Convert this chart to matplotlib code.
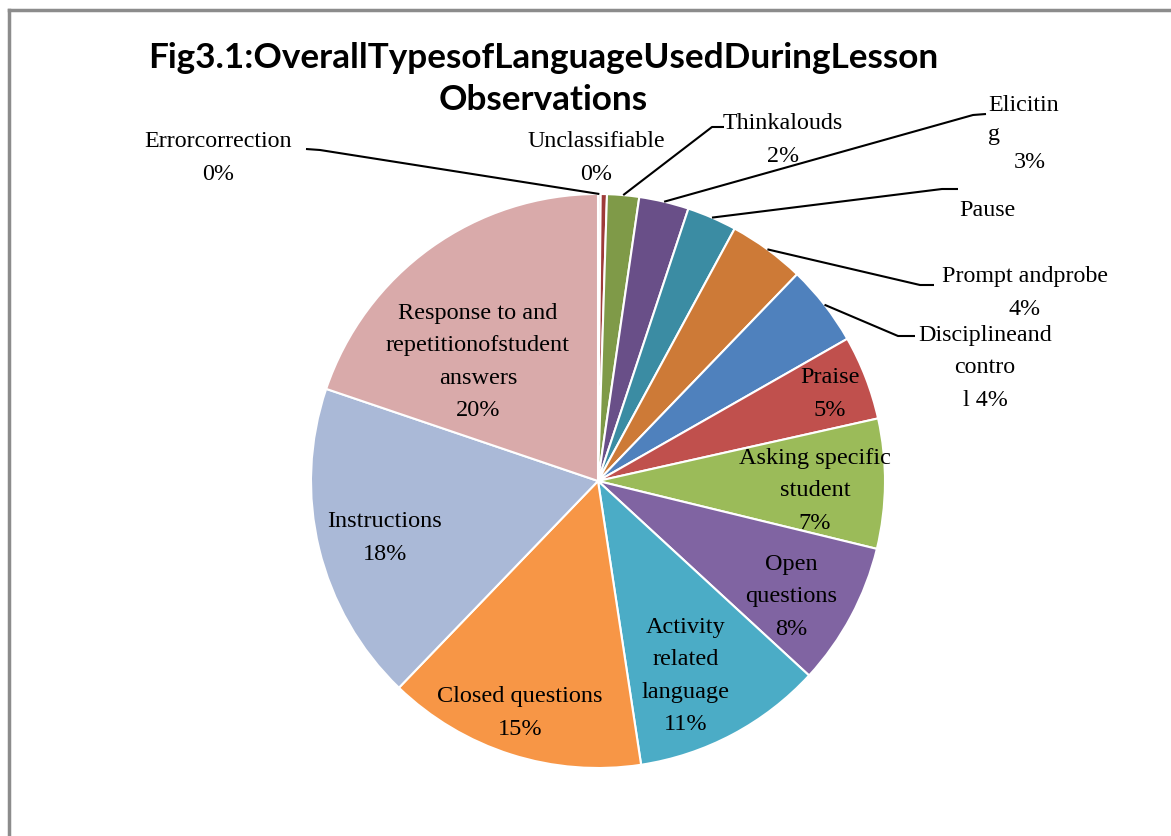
import matplotlib
matplotlib.use("Agg")
import matplotlib.pyplot as plt
from matplotlib.lines import Line2D
import numpy as np

# slices, clockwise from 12 o'clock
categories = ["Error correction", "Unclassifiable", "Think alouds", "Eliciting", "Pause",
              "Prompt and probe", "Discipline and control", "Praise",
              "Asking specific student", "Open questions", "Activity related language",
              "Closed questions", "Instructions", "Response to and repetition of student answers"]
shares = [0.15, 0.35, 1.8, 2.8, 2.8, 4.3, 4.55, 4.75, 7.3, 8.05, 10.75, 14.6, 18.0, 19.8]
labels = ["Errorcorrection\n0%", "Unclassifiable\n0%", "Thinkalouds\n2%", "Elicitin\ng", "Pause",
          "Prompt andprobe\n4%", "Disciplineand\ncontro\nl 4%", "Praise\n5%",
          "Asking specific\nstudent\n7%", "Open\nquestions\n8%", "Activity\nrelated\nlanguage\n11%",
          "Closed questions\n15%", "Instructions\n18%", "Response to and\nrepetitionofstudent\nanswers\n20%"]
colors = ["#f2dcdb", "#9e3b39", "#7f9a48", "#694f88", "#3b8ca3", "#cd7a37",
          "#4f81bd", "#c0504d", "#9bbb59", "#8064a2", "#4bacc6",
          "#f79646", "#aab9d7", "#d9aaaa"]
title_lines = ["Fig3.1:OverallTypesofLanguageUsedDuringLesson", "Observations"]

W, H = 1171, 837
cx, cy, R = 598, 482, 287


def px(x, y):
    # pixel position -> pie data units
    return (x - cx) / R, (cy - y) / R


fig = plt.figure(figsize=(W / 100, H / 100), dpi=100)
ax = fig.add_axes([0, 0, 1, 1])
wedges, _ = ax.pie(shares, colors=colors, startangle=90, counterclock=False,
                   wedgeprops=dict(edgecolor="white", linewidth=1.5))
ax.set_xlim(-cx / R, (W - cx) / R)
ax.set_ylim(-(H - cy) / R, cy / R)
ax.axis("off")

serif = ["Liberation Serif", "DejaVu Serif"]
fs_out = 17.3
fs_in = 17.5

# label centre, leader end and leader elbow (pixels) for outside labels
outside = {
    0: ((218, 158), (306, 150), (320, 151)),
    1: ((596, 158), None, None),
    2: ((783, 140), (724, 128), (712, 128)),
    3: ((988, 120), (986, 115), (973, 116)),
    4: ((987, 211), (958, 190), (942, 190)),
    5: ((1025, 293), (934, 286), (920, 286)),
    6: ((985, 368), (915, 337), (898, 337)),
}
for i, (pos, end, elbow) in outside.items():
    x, y = px(*pos)
    if i == 3:
        ax.text(x, y, labels[i], ha="left", va="center", fontsize=fs_out,
                family=serif, linespacing=1.45)
        x3, y3 = px(1030, 163)
        ax.text(x3, y3, "3%", ha="center", va="center", fontsize=fs_out, family=serif)
    else:
        ax.text(x, y, labels[i], ha="center", va="center", fontsize=fs_out,
                family=serif, linespacing=1.72)
    if end is None:
        continue
    w = wedges[i]
    ang = np.deg2rad((w.theta1 + w.theta2) / 2)
    wx, wy = np.cos(ang), np.sin(ang)
    ex, ey = px(*end)
    bx, by = px(*elbow)
    ax.plot([wx, bx, ex], [wy, by, ey], color="black", lw=1.5, solid_capstyle="butt")

inside = {7: (830, 394), 8: (815, 491), 9: (791, 597), 10: (686, 676),
          11: (520, 713), 12: (385, 538), 13: (478, 362)}
for i, pos in inside.items():
    x, y = px(*pos)
    ax.text(x, y, labels[i], ha="center", va="center", fontsize=fs_in,
            family=serif, linespacing=1.72)

# title, one text per line
for line, ty in zip(title_lines, [58, 100]):
    fig.text(543 / W, 1 - ty / H, line, ha="center", va="center", fontsize=25.3,
             fontweight="bold", family="Lato")

# outer frame
fig.add_artist(Line2D([9 / W, 9 / W], [0, 1 - 11 / H], transform=fig.transFigure,
                      color="#8c8c8c", lw=2.5))
fig.add_artist(Line2D([9 / W, 1], [1 - 11 / H, 1 - 11 / H], transform=fig.transFigure,
                      color="#8c8c8c", lw=2.5))

fig.savefig("out.png", dpi=100)
